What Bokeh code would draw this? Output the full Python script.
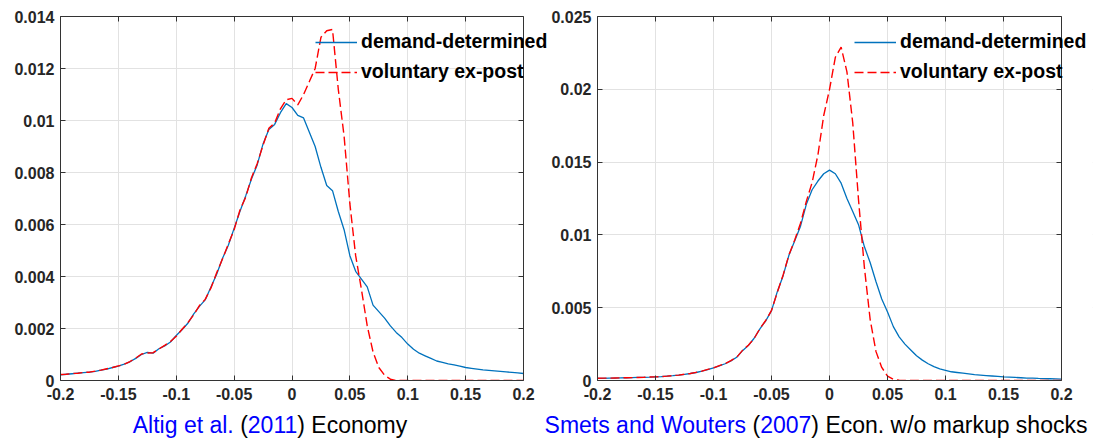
import numpy as np
from bokeh.plotting import figure
from bokeh.models import (Range1d, FixedTicker, LinearAxis, Legend, LegendItem,
                          CustomJSTickFormatter, Div, BoxAnnotation)
from bokeh.layouts import row, column
from bokeh.embed import file_html
from bokeh.resources import INLINE

# ---------------- data ----------------
# density grid (x = -0.2 ... 0.2, step 0.005)
x_grid = np.round(np.linspace(-0.2, 0.2, 81), 3)

# Left panel: Altig et al. (2011)
left_demand = [
    0.00022, 0.00024, 0.00026, 0.00028, 0.00030, 0.00032, 0.00035, 0.00040, 0.00044, 0.00050,
    0.00055, 0.00063, 0.00072, 0.00085, 0.00100, 0.00108, 0.00105, 0.00122, 0.00133, 0.00148,
    0.00173, 0.00195, 0.00220, 0.00255, 0.00285, 0.00310, 0.00360, 0.00410, 0.00470, 0.00520,
    0.00585, 0.00650, 0.00710, 0.00775, 0.00830, 0.00910, 0.00965, 0.00985, 0.01030, 0.01065,
    0.01050, 0.01020, 0.01010, 0.00955, 0.00900, 0.00820, 0.00750, 0.00730, 0.00650, 0.00580,
    0.00480, 0.00420, 0.00390, 0.00360, 0.00290, 0.00265, 0.00240, 0.00210, 0.00185, 0.00165,
    0.00140, 0.00120, 0.00105, 0.00095, 0.00085, 0.00075, 0.00070, 0.00064, 0.00060, 0.00055,
    0.00050, 0.00047, 0.00044, 0.00041, 0.00039, 0.00037, 0.00035, 0.00033, 0.00031, 0.00029,
    0.00027]
left_voluntary = [
    0.00023, 0.00024, 0.00027, 0.00028, 0.00031, 0.00032, 0.00036, 0.00040, 0.00045, 0.00050,
    0.00056, 0.00062, 0.00073, 0.00086, 0.00102, 0.00106, 0.00107, 0.00121, 0.00135, 0.00150,
    0.00170, 0.00197, 0.00222, 0.00252, 0.00288, 0.00312, 0.00356, 0.00415, 0.00468, 0.00525,
    0.00580, 0.00655, 0.00705, 0.00780, 0.00835, 0.00905, 0.00970, 0.00990, 0.01045, 0.01080,
    0.01085, 0.01060, 0.01100, 0.01150, 0.01200, 0.01320, 0.01345, 0.01350, 0.01120, 0.00940,
    0.00680, 0.00480, 0.00350, 0.00210, 0.00110, 0.00050, 0.00020, 0.00005, 0.0, 0.0,
    0.0, 0.0, 0.0, 0.0, 0.0, 0.0, 0.0, 0.0, 0.0, 0.0,
    0.0, 0.0, 0.0, 0.0, 0.0, 0.0, 0.0, 0.0, 0.0, 0.0,
    0.0]

# Right panel: Smets and Wouters (2007)
right_demand = [
    0.00015, 0.00015, 0.00016, 0.00017, 0.00018, 0.00019, 0.00020, 0.00021, 0.00022, 0.00023,
    0.00025, 0.00027, 0.00030, 0.00033, 0.00037, 0.00042, 0.00048, 0.00055, 0.00064, 0.00075,
    0.00087, 0.00100, 0.00115, 0.00135, 0.00160, 0.00205, 0.00240, 0.00290, 0.00355, 0.00410,
    0.00480, 0.00610, 0.00720, 0.00860, 0.00960, 0.01060, 0.01210, 0.01310, 0.01370, 0.01420,
    0.01445, 0.01420, 0.01355, 0.01250, 0.01160, 0.01070, 0.00920, 0.00810, 0.00680, 0.00560,
    0.00470, 0.00370, 0.00300, 0.00250, 0.00210, 0.00170, 0.00140, 0.00115, 0.00095, 0.00080,
    0.00070, 0.00060, 0.00055, 0.00050, 0.00045, 0.00040, 0.00037, 0.00034, 0.00031, 0.00028,
    0.00025, 0.00023, 0.00021, 0.00019, 0.00017, 0.00016, 0.00014, 0.00013, 0.00012, 0.00011,
    0.00010]
right_voluntary = [
    0.00015, 0.00016, 0.00016, 0.00017, 0.00018, 0.00019, 0.00020, 0.00021, 0.00022, 0.00024,
    0.00025, 0.00027, 0.00030, 0.00034, 0.00037, 0.00043, 0.00048, 0.00056, 0.00064, 0.00076,
    0.00087, 0.00102, 0.00116, 0.00137, 0.00160, 0.00207, 0.00242, 0.00288, 0.00357, 0.00412,
    0.00482, 0.00605, 0.00725, 0.00862, 0.00965, 0.01080, 0.01230, 0.01360, 0.01550, 0.01820,
    0.02000, 0.02220, 0.02290, 0.02120, 0.01770, 0.01240, 0.00780, 0.00420, 0.00200, 0.00090,
    0.00030, 0.00008, 0.00002, 0.0, 0.0, 0.0, 0.0, 0.0, 0.0, 0.0,
    0.0, 0.0, 0.0, 0.0, 0.0, 0.0, 0.0, 0.0, 0.0, 0.0,
    0.0, 0.0, 0.0, 0.0, 0.0, 0.0, 0.0, 0.0, 0.0, 0.0,
    0.0]

x_ticks = [-0.2, -0.15, -0.1, -0.05, 0, 0.05, 0.1, 0.15, 0.2]
x_tick_labels = ["-0.2", "-0.15", "-0.1", "-0.05", "0", "0.05", "0.1", "0.15", "0.2"]
left_y_ticks = [0, 0.002, 0.004, 0.006, 0.008, 0.01, 0.012, 0.014]
left_y_labels = ["0", "0.002", "0.004", "0.006", "0.008", "0.01", "0.012", "0.014"]
right_y_ticks = [0, 0.005, 0.01, 0.015, 0.02, 0.025]
right_y_labels = ["0", "0.005", "0.01", "0.015", "0.02", "0.025"]

series_names = ["demand-determined", "voluntary ex-post"]

# ---------------- styling ----------------
BLUE = "#0072BD"
RED = "#FF0000"
AX = "#333333"
TXT = "#262626"
GRID = "#e2e2e2"
FONT = "Liberation Sans"
FRAME_H = 364
X_MIN, X_MAX = x_ticks[0], x_ticks[-1]


def make_panel(width, bl, br, box_w, ymax, yt, yl, yd, yv, leg_x):
    # the frame is extended to the right so the legend may run past the axes box;
    # the visible box is drawn by the four axes, bounded to the data range
    frame_w = width - bl - br
    x_end = X_MAX + (frame_w - box_w) * (X_MAX - X_MIN) / box_w
    p = figure(width=width, height=412, x_range=Range1d(X_MIN, x_end),
               y_range=Range1d(0, ymax), output_backend="svg",
               toolbar_location=None, min_border_left=bl, min_border_right=br,
               min_border_top=16, min_border_bottom=32)
    p.background_fill_color = "white"
    p.border_fill_color = "white"
    p.outline_line_color = None

    xt = FixedTicker(ticks=x_ticks)
    ytk = FixedTicker(ticks=yt)
    for ax, tk, labs, ticks in ((p.xaxis[0], xt, x_tick_labels, x_ticks),
                                (p.yaxis[0], ytk, yl, yt)):
        ax.ticker = tk
        ax.major_label_overrides = {t: s for t, s in zip(ticks, labs)}
        ax.major_tick_in = 5
        ax.major_tick_out = 0
        ax.minor_tick_line_color = None
        ax.axis_line_color = AX
        ax.major_tick_line_color = AX
        ax.major_label_text_font = FONT
        ax.major_label_text_font_style = "bold"
        ax.major_label_text_font_size = "16px"
        ax.major_label_text_color = TXT
    p.xaxis[0].bounds = (X_MIN, X_MAX)
    p.xaxis[0].major_label_standoff = 7
    p.yaxis[0].major_label_standoff = 6

    blank = CustomJSTickFormatter(code="return ''")
    top = LinearAxis(ticker=xt, formatter=blank, major_tick_in=5, major_tick_out=0,
                     minor_tick_line_color=None, axis_line_color=AX,
                     major_tick_line_color=AX, major_label_standoff=0,
                     major_label_text_font_size="1px", bounds=(X_MIN, X_MAX))
    p.add_layout(top, "above")
    right = LinearAxis(ticker=ytk, formatter=blank, major_tick_in=5, major_tick_out=0,
                       minor_tick_line_color=None, axis_line_color=AX,
                       major_tick_line_color=AX, major_label_standoff=0,
                       major_label_text_font_size="1px", fixed_location=X_MAX)
    p.add_layout(right, "right")

    p.xgrid.ticker = xt
    p.ygrid.ticker = ytk
    p.xgrid.grid_line_color = GRID
    p.ygrid.grid_line_color = GRID

    # blank out the grid beyond the right edge of the axes box
    p.add_layout(BoxAnnotation(left=X_MAX, fill_color="white", fill_alpha=1,
                               line_color=None, level="underlay"))

    r1 = p.line(x_grid, yd, line_color=BLUE, line_width=1.3)
    r2 = p.line(x_grid, yv, line_color=RED, line_width=1.4, line_dash="9 4")

    leg = Legend(items=[LegendItem(label=series_names[0], renderers=[r1]),
                        LegendItem(label=series_names[1], renderers=[r2])],
                 location=(leg_x, FRAME_H - 67))
    leg.background_fill_alpha = 0
    leg.border_line_color = None
    leg.padding = 0
    leg.margin = 0
    leg.spacing = 7
    leg.glyph_width = 42
    leg.glyph_height = 22
    leg.label_height = 22
    leg.label_standoff = 4
    leg.label_text_font = FONT
    leg.label_text_font_style = "bold"
    leg.label_text_font_size = "19.5px"
    leg.label_text_color = "black"
    p.add_layout(leg)
    return p


p1 = make_panel(548, 60, 0, 463, 0.014, left_y_ticks, left_y_labels,
                left_demand, left_voluntary, 255)
p2 = make_panel(548, 48, 4, 465, 0.025, right_y_ticks, right_y_labels,
                right_demand, right_voluntary, 257)

CITE = "#0000FF"


def caption(width, html):
    return Div(text=('<div style="width:%dpx;text-align:center;font-family:\'Liberation Sans\';'
                     'font-size:23px;line-height:26px;white-space:nowrap;color:#000">%s</div>'
                     % (width, html)),
               width=width, height=28, margin=0)


cap1 = caption(540, '<span style="color:%s">Altig et al.</span> (<span style="color:%s">2011</span>) Economy'
               % (CITE, CITE))
cap2 = caption(552, '<span style="color:%s">Smets and Wouters</span> (<span style="color:%s">2007</span>) '
               'Econ. w/o markup shocks' % (CITE, CITE))

layout = column(row(p1, p2), row(cap1, cap2))

with open("out.html", "w") as f:
    f.write(file_html(layout, INLINE))
